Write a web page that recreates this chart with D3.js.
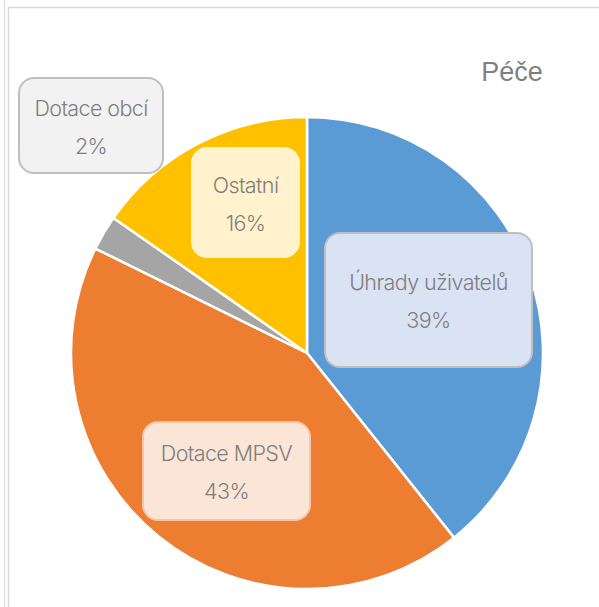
<!DOCTYPE html>
<html>
<head>
<meta charset="utf-8">
<script src="https://cdn.jsdelivr.net/npm/d3@7"></script>
<style>
  html, body { margin: 0; padding: 0; background: #fff; }
  svg { display: block; }
</style>
</head>
<body>
<svg width="599" height="607"></svg>
<script>
// data (clockwise from 12 o'clock)
const categories = ['Úhrady uživatelů', 'Dotace MPSV', 'Dotace obcí', 'Ostatní'];
const shares = [39.3, 43.0, 2.4, 15.3];
const percentLabels = ['39%', '43%', '2%', '16%'];
const chartTitle = 'Péče';

// colours + label boxes (layout only, dragged by hand in the original)
const sliceColors = ['#5b9bd5', '#ed7d31', '#a5a5a5', '#ffc000'];
const boxFills = ['#dae3f3', '#fbe5d6', '#f2f2f2', '#fff2cc'];
const boxStrokes = ['#bfbfbf', '#f4c7a8', '#bfbfbf', '#fff2cc'];
const boxes = [
  { x: 325, y: 233, w: 207, h: 134 },
  { x: 143, y: 422, w: 167, h: 98 },
  { x: 19, y: 78, w: 144, h: 95 },
  { x: 192, y: 148, w: 107, h: 109 }
];

const svg = d3.select('svg');

// frame lines of the sheet
svg.append('line').attr('x1', 8).attr('x2', 599).attr('y1', 7.5).attr('y2', 7.5)
  .attr('stroke', '#d9d9d9').attr('stroke-width', 1.5);
svg.append('line').attr('x1', 4.5).attr('x2', 4.5).attr('y1', 0).attr('y2', 607)
  .attr('stroke', '#e0e0e0').attr('stroke-width', 1.5);
svg.append('line').attr('x1', 8.5).attr('x2', 8.5).attr('y1', 7).attr('y2', 607)
  .attr('stroke', '#d9d9d9').attr('stroke-width', 1.5);

const cx = 307, cy = 353, r = 236;

const pie = d3.pie().sort(null).value(d => d);
const arc = d3.arc().innerRadius(0).outerRadius(r);

const g = svg.append('g').attr('transform', `translate(${cx},${cy})`);
g.selectAll('path')
  .data(pie(shares))
  .enter().append('path')
  .attr('d', arc)
  .attr('fill', (d, i) => sliceColors[i])
  .attr('stroke', '#fff')
  .attr('stroke-width', 2.5)
  .attr('stroke-linejoin', 'round');

// title
svg.append('text')
  .attr('x', 512).attr('y', 81)
  .attr('text-anchor', 'middle')
  .attr('font-family', 'Liberation Sans, Arial, sans-serif')
  .attr('font-size', 27)
  .attr('fill', '#808080')
  .text(chartTitle);

// data labels
const lab = svg.selectAll('g.lab')
  .data(categories)
  .enter().append('g')
  .attr('class', 'lab');

lab.append('rect')
  .attr('x', (d, i) => boxes[i].x)
  .attr('y', (d, i) => boxes[i].y)
  .attr('width', (d, i) => boxes[i].w)
  .attr('height', (d, i) => boxes[i].h)
  .attr('rx', 15)
  .attr('fill', (d, i) => boxFills[i])
  .attr('stroke', (d, i) => boxStrokes[i])
  .attr('stroke-width', 2);

lab.append('text')
  .attr('x', (d, i) => boxes[i].x + boxes[i].w / 2)
  .attr('y', (d, i) => boxes[i].y + boxes[i].h / 2 - 10)
  .attr('text-anchor', 'middle')
  .attr('font-family', 'Inter, sans-serif')
  .attr('font-size', 21.5)
  .attr('font-weight', 300)
  .attr('letter-spacing', -0.6)
  .attr('fill', '#7f7f7f')
  .text(d => d);

lab.append('text')
  .attr('x', (d, i) => boxes[i].x + boxes[i].w / 2)
  .attr('y', (d, i) => boxes[i].y + boxes[i].h / 2 + 28)
  .attr('text-anchor', 'middle')
  .attr('font-family', 'Inter, sans-serif')
  .attr('font-size', 21.5)
  .attr('font-weight', 300)
  .attr('letter-spacing', -0.6)
  .attr('fill', '#7f7f7f')
  .text((d, i) => percentLabels[i]);
</script>
</body>
</html>
